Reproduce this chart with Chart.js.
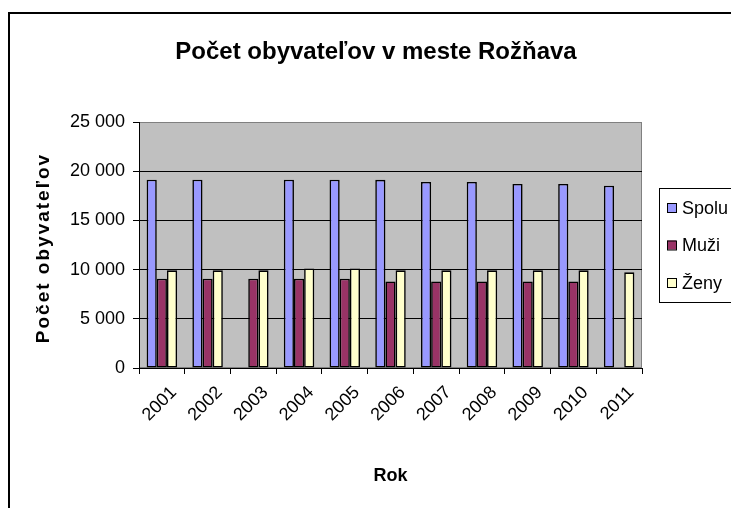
<!DOCTYPE html>
<html>
<head>
<meta charset="utf-8">
<script src="https://cdn.jsdelivr.net/npm/chart.js@4/dist/chart.umd.min.js"></script>
<style>
  html, body { margin: 0; padding: 0; background: #fff; }
  #wrap { width: 731px; height: 508px; }
</style>
</head>
<body>
<div id="wrap"><canvas id="chart" width="731" height="508"></canvas></div>
<script>
const years = ["2001", "2002", "2003", "2004", "2005", "2006", "2007", "2008", "2009", "2010", "2011"];
const spolu = [19130, 19130, null, 19130, 19130, 19120, 18900, 18900, 18700, 18700, 18520];
const muzi = [9070, 9070, 9070, 9070, 9070, 8800, 8800, 8800, 8800, 8800, null];
const zeny = [9930, 9930, 9930, 10120, 10120, 9930, 9930, 9930, 9930, 9930, 9720];

const chartTitle = "Počet obyvateľov v meste Rožňava";
const yTitle = "Počet obyvateľov";
const xTitle = "Rok";

const FONT = 'Arial, "Liberation Sans", sans-serif';

// thousands separated with a space, like "25 000"
function formatNum(v) {
  return String(v).replace(/\B(?=(\d{3})+(?!\d))/g, " ");
}

// gray plot background, outer frame, title, y title and legend
const decorations = {
  id: "decorations",
  beforeDraw(chart) {
    const { ctx, chartArea: a } = chart;
    ctx.save();
    ctx.fillStyle = "#fff";
    ctx.fillRect(0, 0, chart.width, chart.height);
    ctx.fillStyle = "#c0c0c0";
    ctx.fillRect(a.left, a.top, a.right - a.left, a.bottom - a.top);
    ctx.strokeStyle = "#808080";
    ctx.lineWidth = 1;
    ctx.strokeRect(a.left + 0.5, a.top + 0.5, a.right - a.left - 1, a.bottom - a.top - 1);
    ctx.restore();
  },
  afterDraw(chart) {
    const { ctx, chartArea: a } = chart;
    ctx.save();

    // outer frame, runs off the right and bottom edges
    ctx.strokeStyle = "#000";
    ctx.lineWidth = 2;
    ctx.strokeRect(9, 13, 800, 600);

    // main title
    ctx.fillStyle = "#000";
    ctx.font = "bold 24px " + FONT;
    ctx.textAlign = "center";
    ctx.textBaseline = "alphabetic";
    ctx.fillText(chartTitle, 376, 59);

    // y axis title, letter spaced
    ctx.save();
    ctx.translate(49, (a.top + a.bottom) / 2 + 3);
    ctx.rotate(-Math.PI / 2);
    ctx.font = "bold 19px " + FONT;
    ctx.letterSpacing = "2px";
    ctx.textAlign = "center";
    ctx.fillText(yTitle, 0, 0);
    ctx.restore();

    // legend box
    ctx.fillStyle = "#fff";
    ctx.fillRect(659, 188, 100, 114);
    ctx.strokeStyle = "#000";
    ctx.lineWidth = 1;
    ctx.strokeRect(659.5, 188.5, 100, 114);
    ctx.font = "18px " + FONT;
    ctx.textAlign = "left";
    ctx.textBaseline = "middle";
    chart.data.datasets.forEach((ds, i) => {
      const cy = 208 + i * 37.5;
      ctx.fillStyle = ds.backgroundColor;
      ctx.fillRect(667, cy - 5, 9, 9);
      ctx.strokeStyle = "#000";
      ctx.strokeRect(667.5, cy - 4.5, 9, 9);
      ctx.fillStyle = "#000";
      ctx.fillText(ds.label, 682, cy + 1);
    });
    ctx.restore();
  },
};

new Chart(document.getElementById("chart"), {
  type: "bar",
  data: {
    labels: years,
    datasets: [
      { label: "Spolu", data: spolu, backgroundColor: "#9999ff" },
      { label: "Muži", data: muzi, backgroundColor: "#993366" },
      { label: "Ženy", data: zeny, backgroundColor: "#ffffcc" },
    ].map((d) => Object.assign(d, {
      borderColor: "#000",
      borderWidth: 1.6,
      borderSkipped: false,
      categoryPercentage: 3 / 4.5,
      barPercentage: 1,
    })),
  },
  options: {
    responsive: false,
    animation: false,
    layout: { padding: { top: 122, right: 89, left: 0, bottom: 0 } },
    plugins: {
      legend: { display: false },
      title: { display: false },
      tooltip: { enabled: false },
    },
    scales: {
      x: {
        afterFit: (scale) => { scale.height = 140; },
        grid: {
          offset: true,
          drawOnChartArea: false,
          drawTicks: true,
          tickLength: 6,
          color: "#000",
        },
        border: { color: "#000", width: 1 },
        ticks: {
          maxRotation: 45,
          minRotation: 45,
          padding: 8,
          labelOffset: 12,
          color: "#000",
          font: { family: FONT, size: 18 },
        },
        title: {
          display: true,
          text: xTitle,
          color: "#000",
          font: { family: FONT, size: 18, weight: "bold" },
          padding: { top: 4, bottom: 21 },
        },
      },
      y: {
        min: 0,
        max: 25000,
        afterFit: (scale) => { scale.width = 139; },
        grid: {
          color: (c) => (c.tick && c.tick.value === 25000 ? "#808080" : "#000"),
          tickColor: "#000",
          tickLength: 6,
        },
        border: { color: "#000", width: 1 },
        ticks: {
          stepSize: 5000,
          padding: 8,
          color: "#000",
          font: { family: FONT, size: 18 },
          callback: (v) => formatNum(v),
        },
      },
    },
  },
  plugins: [decorations],
});
</script>
</body>
</html>
